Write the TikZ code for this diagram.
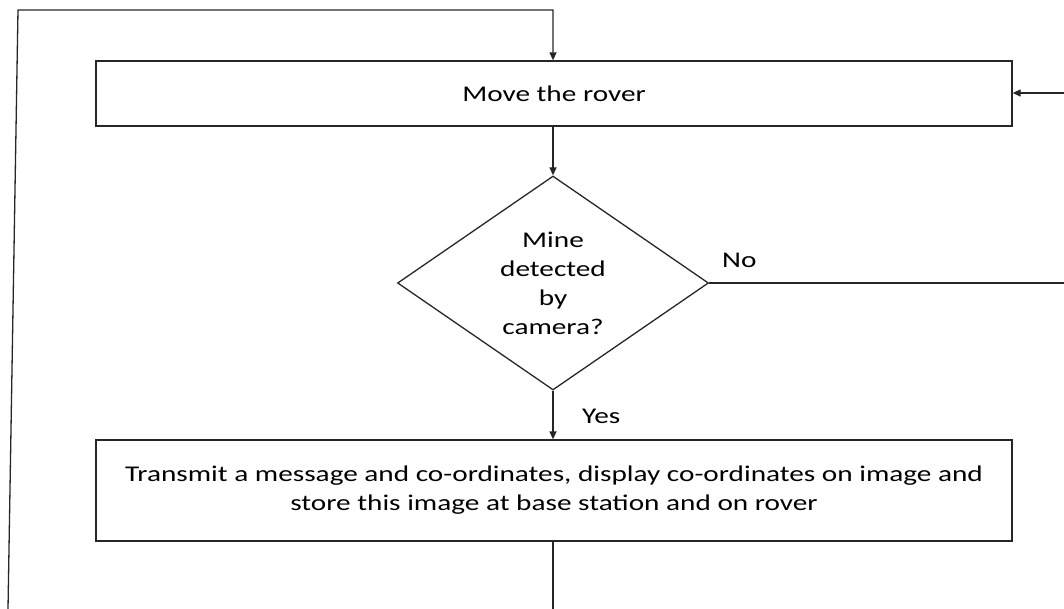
\documentclass[tikz,border=0pt]{standalone}
\usepackage{fontspec}
\setmainfont{Carlito}[FakeStretch=1.3]
\usetikzlibrary{shapes.geometric,arrows.meta}
\begin{document}
\begin{tikzpicture}[x=1pt,y=-1pt,
  line/.style={draw=black!85,line width=1.3pt},
  arr/.style={line,-{Triangle[length=8pt,width=7pt]}},
  procbox/.style={line,rectangle,inner sep=0pt,font=\fontsize{22.5}{29}\selectfont,align=center},
  decision/.style={line,diamond,inner sep=0pt,minimum width=311pt,minimum height=214pt,aspect=1.45,font=\fontsize{22.5}{29}\selectfont,align=center},
  lbl/.style={font=\fontsize{22.5}{29}\selectfont,inner sep=0pt}]
\useasboundingbox (0,0) rectangle (1064,609);
\node[procbox,minimum width=916pt,minimum height=65pt] (move) at (554,93.5) {Move the rover};
\node[decision] (dec) at (553,283) {Mine\\detected\\by\\camera?};
\node[procbox,minimum width=916pt,minimum height=101pt] (tx) at (554,490.5) {Transmit a message and co-ordinates, display co-ordinates on image and\\store this image at base station and on rover};
\coordinate (botL) at (8,609);
\coordinate (topL) at (18,10);
\coordinate (topM) at (553,10);
\coordinate (rightIn) at (1064,93);
\coordinate (rightOut) at (1064,283);
\coordinate (botM) at (553,609);
\draw[arr] (botL) -- (topL) -- (topM) -- (topM |- move.north);
\draw[arr] (move.south -| dec.north) -- (dec.north);
\draw[line] (dec.east) -- (rightOut);
\draw[arr] (rightIn) -- (move.east |- rightIn);
\draw[arr] (dec.south) -- (dec.south |- tx.north);
\draw[line] (tx.south -| botM) -- (botM);
\node[lbl,anchor=base west] (no) at (722,268) {No};
\node[lbl,anchor=base west] (yes) at (582,423) {Yes};
\end{tikzpicture}
\end{document}
